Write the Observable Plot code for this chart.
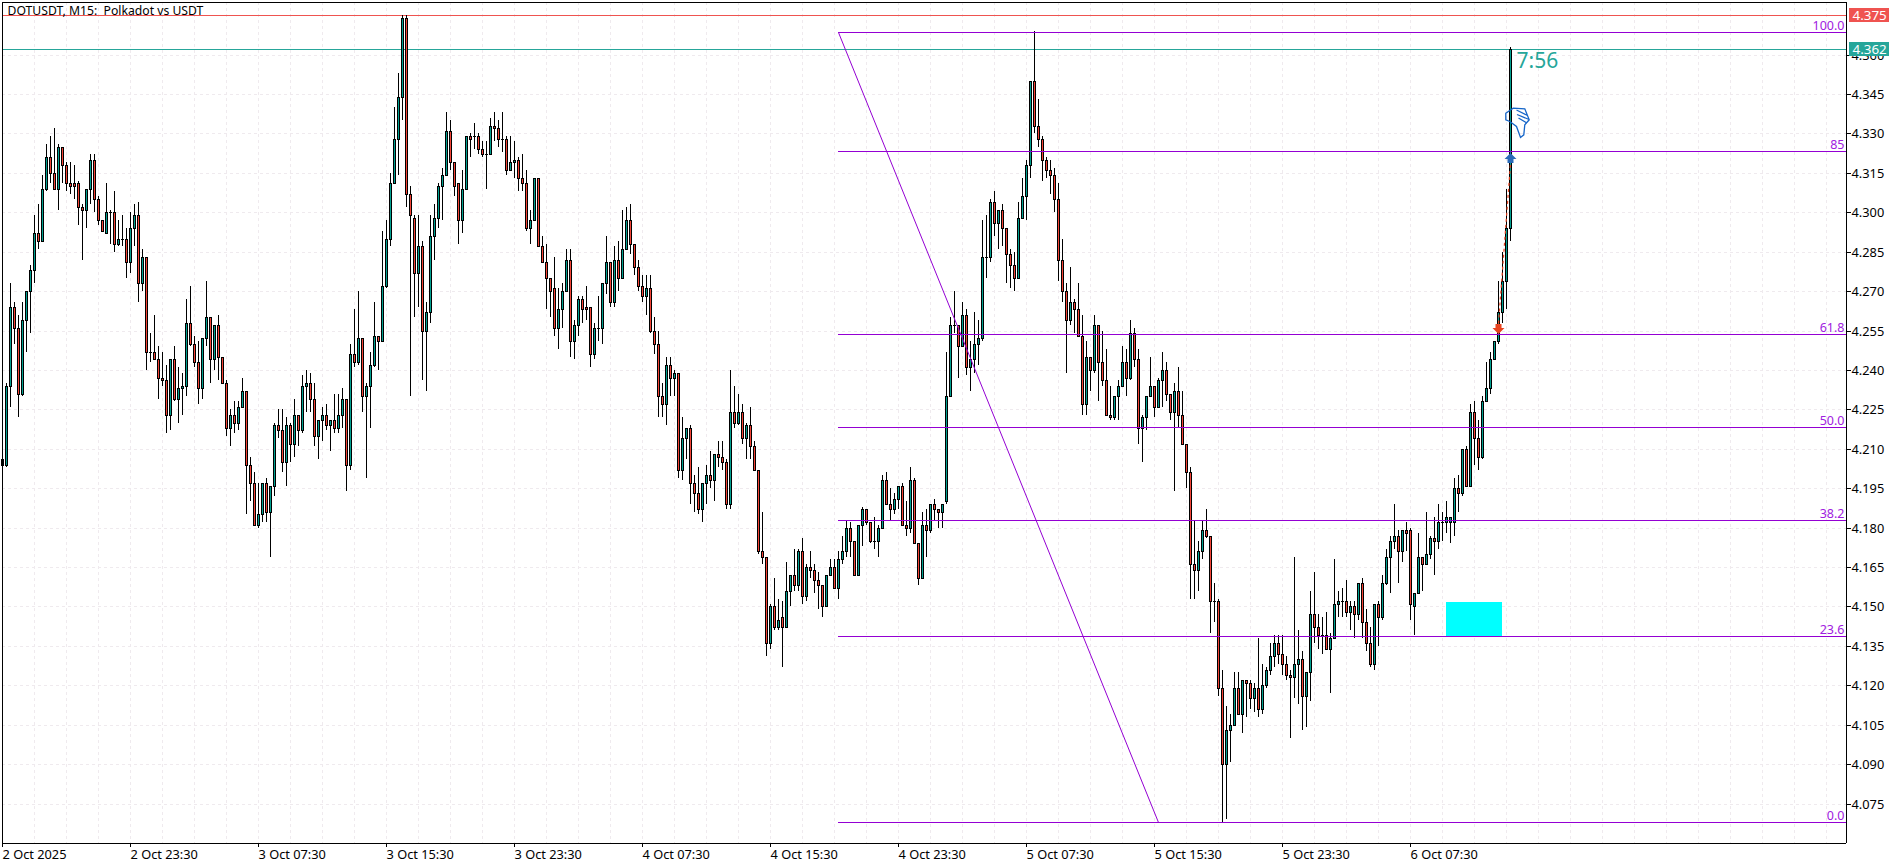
<!DOCTYPE html>
<html>
<head>
<meta charset="utf-8">
<script src="https://cdn.jsdelivr.net/npm/d3@7"></script>
<script src="https://cdn.jsdelivr.net/npm/@observablehq/plot@0.6"></script>
<style>
html,body{margin:0;padding:0;background:#fff;overflow:hidden}
svg{display:block}
</style>
</head>
<body>
<div id="chart"></div>
<script>
// Prices in thousandths (4204 = 4.204), one candle per 15 minutes
const openK = [
4204,4204,4234,4264,4256,4231,4259,4270,4278,4292,
4289,4309,4321,4315,4309,4325,4318,4311,4311,4311,
4302,4301,4309,4320,4305,4297,4292,4300,4300,4288,
4290,4290,4281,4294,4299,4273,4283,4247,4247,4244,
4237,4236,4223,4244,4229,4233,4234,4258,4250,4243,
4233,4252,4260,4244,4257,4245,4235,4218,4223,4220,
4226,4232,4204,4197,4181,4185,4197,4186,4196,4219,
4217,4205,4219,4212,4223,4217,4234,4235,4229,4215,
4221,4223,4219,4221,4218,4223,4229,4204,4246,4243,
4252,4230,4234,4242,4253,4251,4272,4290,4311,4328,
4344,4374,4307,4298,4277,4287,4255,4262,4291,4298,
4310,4314,4331,4319,4311,4297,4309,4329,4329,4329,
4324,4322,4322,4333,4332,4328,4328,4316,4319,4320,
4313,4311,4294,4297,4313,4287,4281,4275,4271,4256,
4263,4270,4282,4251,4257,4267,4264,4264,4246,4256,
4256,4273,4281,4266,4282,4275,4286,4297,4288,4279,
4272,4268,4271,4255,4250,4230,4227,4242,4237,4239,
4202,4214,4218,4197,4193,4187,4197,4200,4198,4208,
4207,4205,4189,4224,4220,4224,4214,4219,4211,4202,
4171,4169,4136,4150,4142,4146,4142,4156,4162,4158,
4171,4154,4165,4164,4160,4158,4150,4162,4165,4157,
4168,4171,4180,4175,4162,4181,4187,4182,4175,4175,
4180,4198,4189,4187,4191,4196,4181,4180,4198,4174,
4161,4181,4179,4189,4187,4186,4190,4230,4257,4257,
4249,4261,4241,4244,4250,4252,4283,4283,4304,4296,
4301,4294,4284,4280,4275,4298,4306,4318,4350,4333,
4328,4320,4316,4314,4305,4282,4270,4259,4266,4263,
4253,4227,4245,4240,4257,4243,4236,4223,4222,4230,
4234,4243,4237,4254,4244,4218,4222,4230,4234,4226,
4236,4240,4231,4224,4232,4223,4212,4201,4166,4164,
4171,4179,4177,4152,4152,4119,4090,4103,4105,4119,
4109,4122,4121,4115,4119,4111,4120,4126,4131,4136,
4132,4128,4124,4123,4128,4130,4116,4125,4147,4142,
4139,4139,4134,4138,4151,4152,4152,4148,4150,4147,
4159,4144,4136,4128,4151,4146,4159,4169,4175,4177,
4171,4179,4179,4150,4155,4169,4166,4170,4176,4175,
4182,4182,4182,4182,4195,4193,4210,4196,4224,4214,
4207,4228,4233,4244,4251,4262,4274,4294];
const closeK = [
4206,4234,4264,4256,4231,4259,4270,4278,4292,4289,
4309,4321,4315,4309,4325,4318,4311,4310,4310,4302,
4301,4309,4320,4305,4297,4293,4300,4300,4288,4290,
4290,4281,4294,4299,4273,4283,4247,4247,4244,4237,
4236,4223,4244,4229,4233,4234,4258,4250,4243,4233,
4252,4260,4244,4257,4245,4235,4218,4223,4220,4226,
4232,4204,4197,4181,4185,4197,4186,4196,4219,4217,
4205,4219,4212,4223,4217,4234,4235,4229,4215,4221,
4223,4219,4221,4218,4223,4229,4204,4246,4243,4252,
4230,4234,4242,4253,4251,4272,4290,4311,4328,4344,
4374,4307,4299,4277,4287,4255,4262,4291,4298,4310,
4314,4331,4319,4310,4297,4309,4329,4328,4329,4324,
4322,4322,4333,4332,4328,4328,4316,4319,4320,4313,
4311,4294,4297,4313,4287,4281,4275,4270,4256,4263,
4270,4282,4251,4257,4267,4263,4263,4246,4256,4256,
4273,4281,4266,4282,4275,4286,4297,4288,4279,4272,
4268,4271,4255,4250,4230,4227,4242,4237,4239,4202,
4214,4218,4197,4193,4187,4197,4200,4198,4208,4207,
4205,4189,4224,4220,4224,4214,4219,4211,4202,4171,
4169,4136,4150,4142,4145,4142,4156,4162,4158,4171,
4154,4165,4164,4160,4158,4150,4162,4165,4157,4168,
4171,4180,4175,4162,4181,4187,4182,4175,4175,4180,
4198,4189,4187,4191,4196,4181,4180,4198,4174,4161,
4181,4179,4189,4187,4186,4189,4230,4257,4257,4249,
4261,4241,4244,4250,4252,4283,4283,4304,4296,4301,
4294,4284,4280,4275,4298,4306,4318,4350,4333,4328,
4320,4316,4314,4305,4282,4270,4259,4266,4263,4253,
4227,4245,4240,4257,4243,4236,4223,4222,4230,4234,
4243,4237,4254,4244,4218,4222,4230,4234,4226,4236,
4240,4231,4224,4232,4223,4212,4201,4166,4164,4171,
4179,4177,4152,4152,4119,4090,4103,4105,4119,4109,
4122,4121,4115,4119,4111,4120,4126,4131,4136,4132,
4128,4124,4123,4128,4130,4116,4125,4147,4142,4139,
4139,4134,4138,4151,4152,4152,4148,4150,4147,4159,
4144,4136,4128,4151,4146,4159,4169,4175,4177,4171,
4179,4178,4151,4155,4169,4166,4170,4176,4175,4182,
4182,4184,4184,4195,4193,4210,4196,4224,4214,4207,
4228,4233,4244,4251,4262,4274,4294,4362];
const highK = [
4206,4235,4273,4266,4261,4266,4270,4280,4299,4303,
4314,4326,4329,4332,4326,4325,4319,4319,4318,4312,
4303,4309,4322,4322,4306,4297,4311,4301,4308,4297,
4299,4294,4300,4303,4304,4286,4283,4254,4261,4249,
4247,4242,4244,4249,4241,4239,4267,4272,4253,4251,
4252,4274,4260,4257,4261,4245,4236,4225,4228,4228,
4237,4232,4207,4201,4197,4197,4199,4196,4220,4225,
4225,4222,4220,4229,4223,4238,4240,4239,4235,4221,
4226,4227,4221,4231,4231,4233,4229,4250,4263,4270,
4252,4235,4247,4266,4253,4293,4297,4315,4340,4353,
4375,4375,4310,4299,4299,4289,4266,4299,4303,4311,
4317,4338,4335,4319,4311,4316,4329,4330,4334,4330,
4327,4327,4336,4338,4335,4338,4329,4329,4327,4321,
4322,4316,4301,4313,4313,4291,4288,4275,4283,4271,
4273,4286,4286,4259,4268,4268,4272,4264,4258,4268,
4273,4291,4281,4287,4289,4301,4302,4303,4288,4282,
4276,4276,4276,4260,4255,4235,4245,4245,4240,4239,
4222,4218,4219,4200,4203,4197,4204,4209,4208,4213,
4213,4206,4240,4234,4231,4227,4220,4226,4213,4202,
4186,4169,4151,4161,4153,4152,4167,4162,4172,4172,
4176,4166,4171,4166,4163,4158,4162,4168,4168,4171,
4177,4183,4182,4175,4181,4188,4187,4182,4184,4181,
4200,4201,4195,4193,4196,4197,4190,4203,4199,4174,
4186,4187,4189,4191,4187,4189,4247,4260,4270,4257,
4266,4263,4251,4262,4259,4297,4299,4305,4308,4301,
4303,4294,4286,4285,4304,4313,4320,4350,4369,4343,
4329,4321,4320,4317,4311,4290,4273,4279,4267,4273,
4261,4251,4245,4261,4257,4255,4248,4234,4230,4236,
4249,4248,4259,4256,4248,4223,4230,4245,4234,4237,
4247,4243,4231,4235,4241,4232,4212,4203,4183,4175,
4183,4187,4177,4159,4153,4126,4112,4109,4125,4125,
4122,4122,4122,4121,4138,4128,4127,4136,4139,4139,
4139,4131,4126,4169,4141,4133,4125,4156,4163,4147,
4146,4148,4140,4168,4156,4157,4160,4152,4152,4159,
4161,4149,4142,4151,4152,4162,4172,4177,4189,4179,
4179,4182,4180,4155,4178,4169,4186,4177,4184,4189,
4186,4190,4184,4199,4200,4210,4211,4227,4228,4221,
4230,4243,4247,4251,4274,4285,4309,4363];
const lowK = [
4204,4203,4226,4250,4222,4230,4247,4254,4273,4286,
4289,4308,4311,4309,4301,4311,4308,4307,4305,4295,
4282,4294,4303,4300,4295,4293,4292,4288,4285,4287,
4287,4275,4277,4287,4266,4270,4240,4243,4244,4229,
4234,4216,4217,4228,4220,4223,4230,4249,4241,4227,
4229,4249,4235,4240,4236,4235,4215,4211,4216,4217,
4226,4185,4190,4181,4180,4182,4182,4169,4192,4214,
4201,4196,4205,4207,4211,4216,4224,4224,4211,4206,
4213,4217,4209,4216,4216,4218,4194,4202,4241,4242,
4224,4199,4218,4241,4240,4251,4271,4287,4311,4314,
4335,4302,4230,4260,4264,4236,4232,4258,4282,4294,
4297,4314,4316,4306,4288,4292,4309,4321,4324,4322,
4321,4309,4322,4327,4325,4323,4314,4316,4313,4308,
4308,4293,4288,4297,4287,4281,4263,4260,4253,4248,
4256,4270,4245,4244,4253,4258,4259,4241,4244,4251,
4250,4269,4264,4264,4270,4275,4286,4284,4276,4270,
4266,4261,4254,4246,4222,4222,4219,4230,4230,4199,
4198,4206,4189,4186,4185,4182,4189,4195,4190,4203,
4202,4187,4187,4218,4219,4212,4206,4206,4202,4170,
4166,4131,4134,4141,4141,4127,4142,4150,4156,4156,
4151,4152,4161,4155,4149,4146,4150,4162,4157,4153,
4166,4169,4169,4162,4162,4173,4181,4174,4172,4169,
4180,4189,4183,4185,4187,4181,4177,4178,4174,4158,
4161,4169,4178,4183,4180,4180,4189,4230,4254,4237,
4249,4238,4232,4239,4242,4251,4275,4281,4291,4286,
4287,4273,4271,4270,4275,4298,4297,4313,4330,4325,
4312,4313,4307,4300,4274,4266,4239,4257,4254,4253,
4223,4223,4232,4239,4228,4234,4223,4221,4221,4221,
4234,4230,4236,4241,4212,4205,4217,4230,4222,4226,
4226,4228,4221,4194,4218,4212,4195,4153,4153,4156,
4168,4176,4140,4144,4116,4068,4069,4091,4105,4109,
4102,4108,4111,4110,4108,4109,4119,4124,4127,4128,
4124,4122,4100,4115,4113,4103,4104,4114,4136,4134,
4132,4134,4117,4138,4146,4146,4146,4141,4138,4145,
4138,4133,4127,4126,4135,4145,4158,4155,4172,4159,
4167,4171,4145,4139,4155,4156,4166,4168,4162,4172,
4175,4178,4174,4177,4186,4192,4196,4196,4204,4202,
4206,4228,4231,4244,4250,4258,4263,4289];

const xTickSlots = [0,32,64,96,128,160,192,224,256,288,320,352];
const xTickLabels = ["2 Oct 2025","2 Oct 23:30","3 Oct 07:30","3 Oct 15:30","3 Oct 23:30","4 Oct 07:30","4 Oct 15:30","4 Oct 23:30","5 Oct 07:30","5 Oct 15:30","5 Oct 23:30","6 Oct 07:30"];
const yTicks = [4.075,4.090,4.105,4.120,4.135,4.150,4.165,4.180,4.195,4.210,4.225,4.240,4.255,4.270,4.285,4.300,4.315,4.330,4.345,4.360];

const fibLabels = ["100.0","85","61.8","50.0","38.2","23.6","0.0"];
const fibPrices = [4.3687,4.3233,4.2537,4.2183,4.1829,4.1388,4.0680];
const fibStart = 209, fibEnd = 289, lastSlot = 461;

const askPrice = 4.375, bidPrice = 4.362;
const FONT = "'Noto Sans', sans-serif";
const TEAL = "#26a69a", RED = "#ef5350", BODY_UP = "#00a090", BODY_DOWN = "#f44336", VIOLET = "#9400d3";

const candles = d3.range(openK.length).map(i => ({
  i, open: openK[i]/1000, close: closeK[i]/1000, high: highK[i]/1000, low: lowK[i]/1000
}));

const arrowUp = {draw(c){c.moveTo(0,-5.5);c.lineTo(6,0.5);c.lineTo(3,0.5);c.lineTo(3,4.5);c.lineTo(-3,4.5);c.lineTo(-3,0.5);c.lineTo(-6,0.5);c.closePath();}};
const arrowDown = {draw(c){c.moveTo(0,5.5);c.lineTo(6,-0.5);c.lineTo(3,-0.5);c.lineTo(3,-4.5);c.lineTo(-3,-4.5);c.lineTo(-3,-0.5);c.lineTo(-6,-0.5);c.closePath();}};
const thumbDown = {draw(c){
  c.moveTo(-10.7,-8.3);c.lineTo(-3.3,-13.3);c.lineTo(8.3,-12.7);c.lineTo(12.7,-1.7);c.lineTo(8.3,3.3);c.lineTo(7.3,13.3);c.lineTo(4,16);c.lineTo(0,5);c.lineTo(-6.7,0);c.lineTo(-10.7,-1.7);c.closePath();
  c.moveTo(0,-11.5);c.lineTo(11,-6);c.moveTo(0.5,-7);c.lineTo(12.5,-2);c.moveTo(2,-3.5);c.lineTo(9.5,1);
}};

const plot = Plot.plot({
  width: 1902, height: 867,
  marginLeft: 2, marginRight: 56, marginTop: 2, marginBottom: 24,
  style: {fontFamily: FONT, fontSize: "12.8px", color: "#000", background: "#fff"},
  x: {type: "linear", domain: [0, lastSlot], round: true, axis: null},
  y: {type: "linear", domain: [4.06, 4.38], round: true, axis: null},
  marks: [
    Plot.gridX(d3.range(0, lastSlot, 8), {stroke: "#efeaee", strokeOpacity: 1, strokeDasharray: "3,3"}),
    Plot.gridY(yTicks, {stroke: "#efeaee", strokeOpacity: 1, strokeDasharray: "3,3"}),
    Plot.ruleY([askPrice], {stroke: RED}),
    Plot.ruleY([bidPrice], {stroke: TEAL}),
    Plot.rect([{a: 361, b: 375, t: 4.1517, u: 4.1388}], {x1: "a", x2: "b", y1: "u", y2: "t", fill: "#00ffff", stroke: "none"}),
    Plot.ruleX(candles, {x: "i", y1: "low", y2: "high", stroke: "#000", strokeWidth: 1}),
    Plot.rect(candles.filter(d => d.open !== d.close), {
      x1: d => d.i - 0.25, x2: d => d.i + 0.25, y1: "open", y2: "close",
      fill: d => d.close > d.open ? BODY_UP : BODY_DOWN, stroke: "#000", strokeWidth: 1, dx: 0.5, dy: 0.5
    }),
    Plot.ruleY(candles.filter(d => d.open === d.close), {x1: d => d.i - 0.25, x2: d => d.i + 0.5, y: "open", stroke: "#000"}),
    Plot.ruleY(fibPrices, {x1: fibStart, x2: lastSlot, stroke: VIOLET}),
    Plot.link([0], {x1: fibStart, y1: fibPrices[0], x2: fibEnd, y2: fibPrices[6], stroke: VIOLET, strokeWidth: 1}),
    Plot.text(fibLabels, {x: lastSlot, y: (d, i) => fibPrices[i], text: d => d, dx: -2, dy: -7, textAnchor: "end", fill: "#a020e0", fontSize: 12.5}),
    Plot.dot([{i: 374, p: 4.2558}], {x: "i", y: "p", symbol: arrowDown, fill: "#e8431f", stroke: "none"}),
    Plot.dot([{i: 377, p: 4.3206}], {x: "i", y: "p", symbol: arrowUp, fill: "#2a6ab8", stroke: "none"}),
    Plot.link([0], {x1: 374, y1: 4.2579, x2: 377, y2: 4.3187, stroke: "#e8431f", strokeDasharray: "3,3", strokeWidth: 1.2}),
    Plot.dot([{i: 378.5, p: 4.3347}], {x: "i", y: "p", symbol: thumbDown, fill: "none", stroke: "#1565c8", strokeWidth: 1.3}),
    Plot.text(["7:56"], {x: 378.6, y: 4.3575, text: d => d, textAnchor: "start", fill: TEAL, fontSize: 21}),
    // frame
    Plot.ruleX([0, lastSlot], {stroke: "#000"}),
    Plot.ruleY([4.06, 4.38], {stroke: "#000"}),
    // axes
    Plot.axisX(xTickSlots, {anchor: "bottom", tickSize: 4, tickPadding: 2, textAnchor: "start",
      tickFormat: d => xTickLabels[xTickSlots.indexOf(d)], label: null, stroke: "#000", fill: "#000"}),
    Plot.axisY(yTicks, {anchor: "right", tickSize: 4, tickPadding: 1, tickFormat: d => d.toFixed(3), label: null, stroke: "#000", fill: "#000"}),
    // price tags
    Plot.rect([{p: askPrice, f: RED}, {p: bidPrice, f: TEAL}], {
      x1: 461.75, x2: 471.75, y1: d => d.p - 0.00266, y2: d => d.p + 0.00266, fill: "f", stroke: "none"}),
    Plot.text([askPrice, bidPrice], {x: 461.75, y: d => d, text: d => d.toFixed(3), textAnchor: "start", dx: 3, fill: "#fff", fontSize: 13.4}),
    // title
    Plot.text(["DOTUSDT, M15:\u00a0\u00a0Polkadot vs USDT"], {frameAnchor: "top-left", text: d => d, dx: 5, dy: 9, textAnchor: "start", lineAnchor: "middle", fill: "#000", fontSize: 12.2})
  ]
});
document.getElementById("chart").appendChild(plot);
</script>
</body>
</html>
